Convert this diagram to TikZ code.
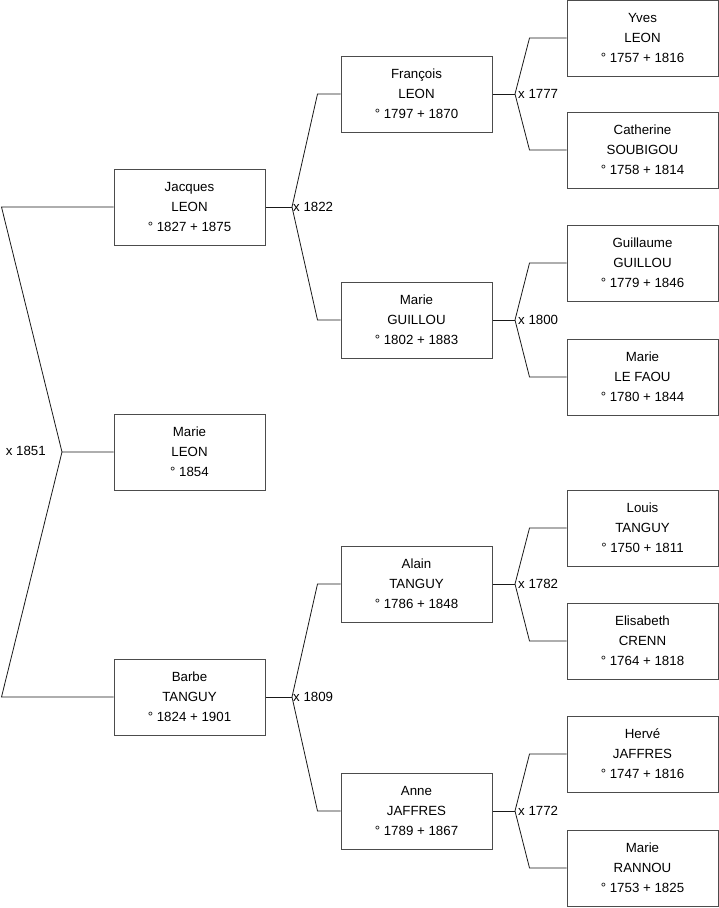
\documentclass[tikz,border=0pt]{standalone}
\usepackage{fontspec}
\setmainfont{Liberation Sans}
\begin{document}
\begin{tikzpicture}[x=1pt,y=-1pt,
  person/.style={draw=black!70, line width=1pt, fill=white, minimum width=151pt, minimum height=76pt,
    align=center, inner sep=0pt, font=\fontsize{13.3}{20}\selectfont},
  link/.style={draw=black!90, line width=0.8pt},
  marr/.style={font=\fontsize{13.3}{14}\selectfont, inner sep=1pt}]
\useasboundingbox (0,0) rectangle (719,908);
% generation 0
\node[person] (jacques) at (189.5,207) {Jacques\\LEON\\° 1827 + 1875};
\node[person] (marie) at (189.5,452) {Marie\\LEON\\° 1854};
\node[person] (barbe) at (189.5,697) {Barbe\\TANGUY\\° 1824 + 1901};
% generation 1
\node[person] (francois) at (416.5,94) {François\\LEON\\° 1797 + 1870};
\node[person] (marieg) at (416.5,320) {Marie\\GUILLOU\\° 1802 + 1883};
\node[person] (alain) at (416.5,584) {Alain\\TANGUY\\° 1786 + 1848};
\node[person] (anne) at (416.5,811) {Anne\\JAFFRES\\° 1789 + 1867};
% generation 2
\node[person] (yves) at (642.5,38) {Yves\\LEON\\° 1757 + 1816};
\node[person] (catherine) at (642.5,150) {Catherine\\SOUBIGOU\\° 1758 + 1814};
\node[person] (guillaume) at (642.5,263) {Guillaume\\GUILLOU\\° 1779 + 1846};
\node[person] (mariel) at (642.5,377) {Marie\\LE FAOU\\° 1780 + 1844};
\node[person] (louis) at (642.5,528) {Louis\\TANGUY\\° 1750 + 1811};
\node[person] (elisabeth) at (642.5,641) {Elisabeth\\CRENN\\° 1764 + 1818};
\node[person] (herve) at (642.5,754) {Hervé\\JAFFRES\\° 1747 + 1816};
\node[person] (marier) at (642.5,868) {Marie\\RANNOU\\° 1753 + 1825};
% marriage points
\coordinate (m0) at (62,452);
\coordinate (m1) at (292,207);
\coordinate (m2) at (292,697);
\coordinate (m3) at (515,94);
\coordinate (m4) at (515,320);
\coordinate (m5) at (515,584);
\coordinate (m6) at (515,811);
% level 0
\draw[link] (jacques.west) -- ([xshift=-112pt]jacques.west) -- (m0) -- (marie.west);
\draw[link] (barbe.west) -- ([xshift=-112pt]barbe.west) -- (m0);
\node[marr, anchor=east] at (47,451) {x 1851};
% level 1
\draw[link] (jacques.east) -- (m1);
\draw[link] (m1) -- ([xshift=-23pt]francois.west) -- (francois.west);
\draw[link] (m1) -- ([xshift=-23pt]marieg.west) -- (marieg.west);
\node[marr, anchor=west] at (m1) {x 1822};
\draw[link] (barbe.east) -- (m2);
\draw[link] (m2) -- ([xshift=-23pt]alain.west) -- (alain.west);
\draw[link] (m2) -- ([xshift=-23pt]anne.west) -- (anne.west);
\node[marr, anchor=west] at (m2) {x 1809};
% level 2
\draw[link] (francois.east) -- (m3);
\draw[link] (m3) -- ([xshift=-37pt]yves.west) -- (yves.west);
\draw[link] (m3) -- ([xshift=-37pt]catherine.west) -- (catherine.west);
\node[marr, anchor=west] at ([xshift=2pt]m3) {x 1777};
\draw[link] (marieg.east) -- (m4);
\draw[link] (m4) -- ([xshift=-37pt]guillaume.west) -- (guillaume.west);
\draw[link] (m4) -- ([xshift=-37pt]mariel.west) -- (mariel.west);
\node[marr, anchor=west] at ([xshift=2pt]m4) {x 1800};
\draw[link] (alain.east) -- (m5);
\draw[link] (m5) -- ([xshift=-37pt]louis.west) -- (louis.west);
\draw[link] (m5) -- ([xshift=-37pt]elisabeth.west) -- (elisabeth.west);
\node[marr, anchor=west] at ([xshift=2pt]m5) {x 1782};
\draw[link] (anne.east) -- (m6);
\draw[link] (m6) -- ([xshift=-37pt]herve.west) -- (herve.west);
\draw[link] (m6) -- ([xshift=-37pt]marier.west) -- (marier.west);
\node[marr, anchor=west] at ([xshift=2pt]m6) {x 1772};
\end{tikzpicture}
\end{document}
